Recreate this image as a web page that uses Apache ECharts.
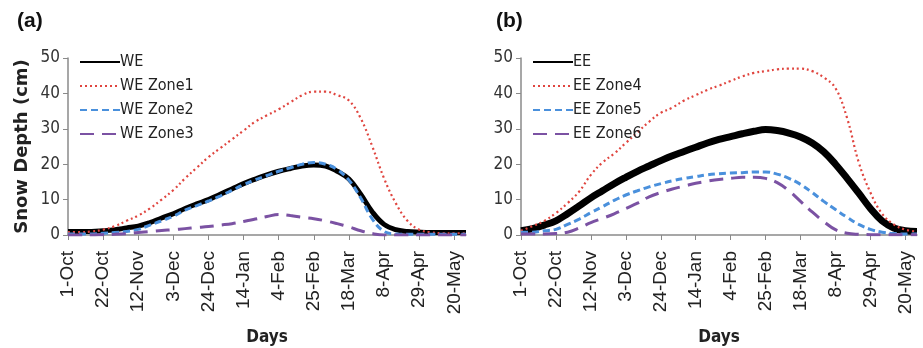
<!DOCTYPE html>
<html>
<head>
<meta charset="utf-8">
<script src="https://cdn.jsdelivr.net/npm/echarts@6/dist/echarts.min.js"></script>
<style>
  html, body { margin: 0; padding: 0; background: #fff; }
  #chart { width: 923px; height: 348px; }
</style>
</head>
<body>
<div id="chart"></div>
<script>
// weekly sample dates, 1-Oct .. 27-May
const days = [
  '1-Oct', '8-Oct', '15-Oct', '22-Oct', '29-Oct', '5-Nov', '12-Nov', '19-Nov', '26-Nov',
  '3-Dec', '10-Dec', '17-Dec', '24-Dec', '31-Dec', '7-Jan', '14-Jan', '21-Jan', '28-Jan',
  '4-Feb', '11-Feb', '18-Feb', '25-Feb', '4-Mar', '11-Mar', '18-Mar', '25-Mar', '1-Apr',
  '8-Apr', '15-Apr', '22-Apr', '29-Apr', '6-May', '13-May', '20-May', '27-May'
]

// panel (a) - western
const we = [1, 1, 1, 1.2, 1.5, 2, 2.5, 3.5, 4.8, 6, 7.5, 8.8, 10, 11.5, 13, 14.5, 15.8, 17,
  18, 18.8, 19.5, 19.8, 19.5, 18, 15.8, 11.5, 6.5, 3, 1.5, 1, 0.8, 0.7, 0.7, 0.7, 0.7]
const weZone1 = [0.8, 0.8, 1, 1.5, 2.5, 4, 5.5, 7.5, 10, 12.7, 16, 19, 22, 24.5, 27, 29.5, 32, 33.8,
  35.5, 37.5, 39.5, 40.5, 40.5, 39.5, 38, 33, 25, 16, 9, 4, 1.5, 0.8, 0.5, 0.5, 0.5]
const weZone2 = [0.3, 0.3, 0.3, 0.5, 0.7, 1, 1.6, 2.8, 4, 5.3, 7, 8.3, 9.6, 11, 12.6, 14.2, 15.6, 16.8,
  18, 19, 20, 20.5, 20, 18.5, 15.5, 10.5, 4.5, 1, 0.3, 0.2, 0.2, 0.2, 0.2, 0.2, 0.2]
const weZone3 = [0, 0, 0, 0.1, 0.2, 0.4, 0.7, 1, 1.3, 1.5, 1.8, 2.1, 2.4, 2.8, 3.2, 3.8, 4.5, 5.2,
  5.8, 5.5, 5, 4.6, 4, 3.2, 2.3, 1.2, 0.4, 0, 0, 0, 0, 0, 0, 0, 0]

// panel (b) - eastern
const ee = [1.2, 1.8, 2.8, 4, 6, 8.2, 10.5, 12.5, 14.5, 16.3, 18, 19.5, 21, 22.4, 23.6, 24.8, 26, 27,
  27.8, 28.6, 29.3, 29.8, 29.5, 28.8, 27.7, 26, 23.5, 20, 16, 11.8, 7.5, 4, 2, 1.2, 1]
const eeZone4 = [1.2, 2.5, 4, 6.2, 9, 12.3, 17, 20.5, 23, 26, 29, 32, 34.5, 36, 38, 39.5, 41, 42.2,
  43.5, 44.8, 45.8, 46.3, 46.8, 47, 47, 46.3, 44.5, 41.5, 33, 20.5, 12, 6, 3, 1.5, 1]
const eeZone5 = [0.8, 0.8, 1.2, 1.6, 3, 4.5, 6.3, 8, 9.8, 11.3, 12.5, 13.6, 14.5, 15.3, 16, 16.5, 17, 17.3,
  17.5, 17.6, 17.8, 17.8, 17.2, 16, 14.3, 12, 9.5, 7.2, 5, 3, 1.6, 0.8, 0.4, 0.3, 0.3]
const eeZone6 = [0.3, 0.3, 0.3, 0.4, 0.8, 2, 3.5, 4.7, 6, 7.5, 9, 10.8, 12, 13, 13.8, 14.6, 15.2, 15.7,
  16, 16.3, 16.3, 16, 14.8, 12.5, 9.5, 6.5, 3.8, 1.5, 0.5, 0.2, 0.1, 0.1, 0.1, 0.1, 0.1]

const narrow = '"Liberation Sans Narrow", "DejaVu Sans Condensed", sans-serif'
const sans = '"Liberation Sans", Arial, sans-serif'
const axisColor = '#8a8a8a'

const styles = [
  { color: '#000000', width: 5, type: 'solid' },
  { color: '#e0453f', width: 2.2, type: [2, 3] },
  { color: '#4a90dc', width: 3, type: [7, 4] },
  { color: '#7b52a3', width: 3, type: [14, 8] }
]

function xAxis (gridIndex) {
  return {
    type: 'category',
    gridIndex,
    data: days,
    boundaryGap: false,
    name: 'Days',
    nameLocation: 'middle',
    nameGap: 94,
    nameTextStyle: { fontFamily: narrow, fontWeight: 'bold', fontSize: 17, color: '#222' },
    axisLine: { lineStyle: { color: axisColor, width: 1.5 } },
    axisTick: { interval: 2, length: 5, lineStyle: { color: axisColor } },
    axisLabel: {
      interval: 2, rotate: 90, margin: 16,
      fontFamily: sans, fontSize: 19, color: '#222'
    }
  }
}

function yAxis (gridIndex, name) {
  return {
    type: 'value',
    gridIndex,
    min: 0,
    max: 50,
    interval: 10,
    name,
    nameLocation: 'middle',
    nameGap: 37,
    nameTextStyle: { fontFamily: '"DejaVu Sans", sans-serif', fontWeight: 'bold', fontSize: 18, color: '#222' },
    splitLine: { show: false },
    axisLine: { show: true, lineStyle: { color: axisColor, width: 1.5 } },
    axisTick: { show: true, length: 5, lineStyle: { color: axisColor } },
    axisLabel: { fontFamily: narrow, fontSize: 17, color: '#333', margin: 8 }
  }
}

function makeSeries (names, lists, idx, thickWidth) {
  return names.map((name, i) => ({
    name,
    type: 'line',
    xAxisIndex: idx,
    yAxisIndex: idx,
    data: lists[i],
    smooth: 0.4,
    symbol: 'none',
    z: i === 0 ? 1 : 2 + i,
    lineStyle: {
      color: styles[i].color,
      width: i === 0 ? thickWidth : styles[i].width,
      type: styles[i].type
    },
    itemStyle: { color: styles[i].color }
  }))
}

const weNames = ['WE', 'WE Zone1', 'WE Zone2', 'WE Zone3']
const eeNames = ['EE', 'EE Zone4', 'EE Zone5', 'EE Zone6']

function legend (left, data) {
  return {
    left,
    top: 49,
    orient: 'vertical',
    data,
    itemWidth: 40,
    itemHeight: 12,
    itemGap: 8,
    itemStyle: { opacity: 0, borderWidth: 0 },
    textStyle: { fontFamily: narrow, fontSize: 16, color: '#222', padding: [0, 0, 0, -5] }
  }
}

const chart = echarts.init(document.getElementById('chart'), null, { renderer: 'canvas' })

chart.setOption({
  animation: false,
  backgroundColor: '#fff',
  title: [
    { text: '(a)', left: 12, top: 6, textStyle: { fontFamily: sans, fontWeight: 'bold', fontSize: 21, color: '#111' } },
    { text: '(b)', left: 491, top: 6, textStyle: { fontFamily: sans, fontWeight: 'bold', fontSize: 21, color: '#111' } }
  ],
  legend: [legend(74, weNames), legend(527, eeNames)],
  grid: [
    { left: 68, top: 58, width: 398, height: 177, outerBoundsMode: 'none' },
    { left: 521, top: 58, width: 396, height: 177, outerBoundsMode: 'none' }
  ],
  xAxis: [xAxis(0), xAxis(1)],
  yAxis: [yAxis(0, 'Snow Depth (cm)'), yAxis(1, '')],
  series: [
    ...makeSeries(weNames, [we, weZone1, weZone2, weZone3], 0, 5),
    ...makeSeries(eeNames, [ee, eeZone4, eeZone5, eeZone6], 1, 7)
  ]
})
</script>
</body>
</html>
